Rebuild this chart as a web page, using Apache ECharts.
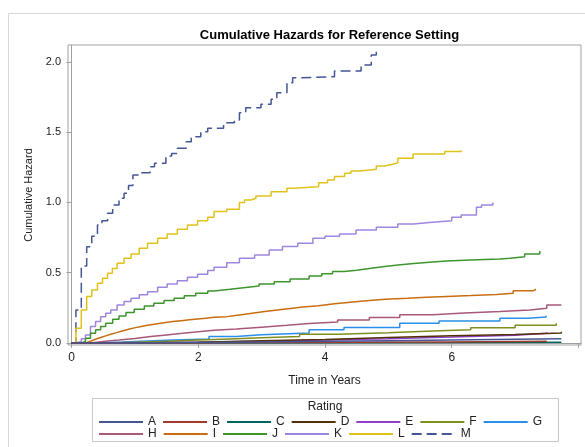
<!DOCTYPE html>
<html>
<head>
<meta charset="utf-8">
<script src="https://cdn.jsdelivr.net/npm/echarts@6/dist/echarts.min.js"></script>
<style>
  html, body { margin: 0; padding: 0; background: #fff; }
  #chart { width: 585px; height: 447px; }
</style>
</head>
<body>
<div id="chart"></div>
<script>
// Rating groups
const ratings = ['A','B','C','D','E','F','G','H','I','J','K','L','M'];

// Step times (years) and cumulative hazard after each jump, per rating
const tA = [0, 1, 2, 3, 4, 5, 6, 7, 7.73];
const hA = [0, 0.003, 0.007, 0.011, 0.016, 0.021, 0.026, 0.030, 0.033];
const tB = [0, 1.5, 3, 4.5, 6, 7.0, 7.5];
const hB = [0, 0.002, 0.004, 0.007, 0.010, 0.012, 0.014];
const tC = [0, 2, 4, 6, 7.73];
const hC = [0, 0.001, 0.002, 0.004, 0.005];
const tD = [0, 1, 2, 3, 4, 5, 6, 7, 7.73];
const hD = [0, 0.005, 0.015, 0.025, 0.038, 0.050, 0.060, 0.070, 0.080];
const tE = [0, 1, 2, 3, 4, 5, 6, 7, 7.5];
const hE = [0, 0.005, 0.012, 0.020, 0.030, 0.042, 0.055, 0.068, 0.076];
const tF = [0, 0.5, 1.0, 1.5, 2.0, 2.5, 3.0, 3.6, 4.2, 5.0, 5.7, 6.3, 7.0, 7.65];
const hF = [0, 0.005, 0.012, 0.020, 0.028, 0.036, 0.045, 0.062, 0.072, 0.085, 0.093, 0.108, 0.125, 0.140];
const tG = [0, 0.4, 0.8, 1.2, 1.6, 2.17, 2.6, 3.0, 3.75, 4.3, 5.18, 5.8, 6.76, 7.2, 7.49];
const hG = [0, 0.006, 0.013, 0.020, 0.028, 0.045, 0.058, 0.070, 0.093, 0.110, 0.140, 0.155, 0.176, 0.185, 0.194];
const tH = [0, 0.3, 0.5, 0.75, 1.0, 1.25, 1.5, 1.75, 2.0, 2.25, 2.6, 3.0, 3.4, 3.75, 4.2, 4.7, 5.18, 5.7, 6.2, 6.76, 7.23, 7.5, 7.73];
const hH = [0, 0.010, 0.020, 0.032, 0.045, 0.057, 0.068, 0.080, 0.090, 0.099, 0.112, 0.125, 0.138, 0.148, 0.163, 0.180, 0.200, 0.212, 0.224, 0.235, 0.247, 0.270, 0.270];
const tI = [0, 0.22, 0.30, 0.38, 0.46, 0.54, 0.62, 0.71, 0.80, 0.90, 0.99, 1.10, 1.20, 1.33, 1.46, 1.60, 1.73, 1.86, 1.99, 2.12, 2.25, 2.45, 2.65, 2.85, 3.05, 3.25, 3.45, 3.65, 3.9, 4.15, 4.4, 4.65, 4.95, 5.3, 5.6, 5.92, 6.3, 6.71, 6.97, 7.29, 7.33];
const hI = [0, 0.012, 0.026, 0.038, 0.050, 0.062, 0.073, 0.085, 0.097, 0.107, 0.116, 0.126, 0.135, 0.144, 0.152, 0.158, 0.164, 0.170, 0.176, 0.182, 0.187, 0.199, 0.211, 0.223, 0.235, 0.245, 0.255, 0.265, 0.278, 0.290, 0.300, 0.311, 0.318, 0.325, 0.331, 0.337, 0.345, 0.354, 0.372, 0.382, 0.382];
const tJ = [0, 0.15, 0.22, 0.30, 0.38, 0.46, 0.54, 0.65, 0.75, 0.86, 0.99, 1.15, 1.30, 1.46, 1.62, 1.78, 1.96, 2.15, 2.25, 2.5, 2.75, 2.96, 3.2, 3.45, 3.75, 3.95, 4.12, 4.3, 4.5, 4.7, 4.91, 5.15, 5.4, 5.65, 5.92, 6.3, 6.76, 6.92, 7.15, 7.39];
const hJ = [0, 0.010, 0.033, 0.069, 0.093, 0.116, 0.140, 0.169, 0.192, 0.216, 0.240, 0.263, 0.283, 0.301, 0.318, 0.335, 0.354, 0.370, 0.382, 0.395, 0.405, 0.420, 0.435, 0.455, 0.477, 0.492, 0.508, 0.518, 0.530, 0.542, 0.555, 0.565, 0.575, 0.583, 0.591, 0.597, 0.603, 0.614, 0.633, 0.655];
const tK = [0, 0.07, 0.155, 0.22, 0.30, 0.38, 0.46, 0.54, 0.62, 0.72, 0.83, 0.94, 1.07, 1.20, 1.36, 1.51, 1.67, 1.83, 1.99, 2.15, 2.25, 2.45, 2.65, 2.89, 3.12, 3.33, 3.57, 3.81, 4.0, 4.23, 4.49, 4.81, 5.15, 5.4, 5.65, 6.0, 6.15, 6.39, 6.47, 6.65];
const hK = [0, 0.010, 0.030, 0.057, 0.116, 0.152, 0.187, 0.211, 0.235, 0.270, 0.294, 0.318, 0.342, 0.365, 0.396, 0.420, 0.443, 0.467, 0.489, 0.515, 0.539, 0.570, 0.603, 0.626, 0.662, 0.686, 0.709, 0.745, 0.760, 0.776, 0.804, 0.823, 0.847, 0.858, 0.870, 0.895, 0.911, 0.966, 0.982, 0.999];
const tL = [0, 0.07, 0.155, 0.24, 0.32, 0.41, 0.49, 0.57, 0.645, 0.72, 0.83, 0.94, 1.07, 1.20, 1.36, 1.51, 1.67, 1.83, 1.99, 2.15, 2.25, 2.45, 2.65, 2.73, 2.83, 2.91, 3.15, 3.40, 3.5, 3.90, 4.04, 4.15, 4.31, 4.41, 4.55, 4.81, 4.94, 5.07, 5.15, 5.39, 5.89, 6.15];
const hL = [0, 0.105, 0.235, 0.330, 0.377, 0.425, 0.460, 0.496, 0.530, 0.567, 0.603, 0.633, 0.674, 0.710, 0.745, 0.776, 0.809, 0.840, 0.870, 0.895, 0.935, 0.951, 0.999, 1.018, 1.030, 1.046, 1.077, 1.101, 1.112, 1.141, 1.160, 1.184, 1.208, 1.224, 1.236, 1.260, 1.272, 1.283, 1.315, 1.345, 1.362, 1.370];
const tM = [0, 0.07, 0.155, 0.24, 0.32, 0.41, 0.48, 0.57, 0.65, 0.75, 0.83, 0.90, 0.97, 1.07, 1.24, 1.31, 1.49, 1.58, 1.67, 1.81, 1.89, 2.04, 2.15, 2.40, 2.57, 2.65, 2.75, 2.99, 3.15, 3.24, 3.40, 3.49, 3.6, 4.15, 4.57, 4.73, 4.81];
const hM = [0, 0.235, 0.548, 0.685, 0.760, 0.840, 0.870, 0.923, 0.982, 1.030, 1.065, 1.120, 1.195, 1.212, 1.255, 1.279, 1.331, 1.348, 1.386, 1.433, 1.468, 1.504, 1.528, 1.568, 1.587, 1.639, 1.675, 1.699, 1.734, 1.781, 1.853, 1.888, 1.895, 1.936, 1.979, 2.050, 2.085];

const times = [tA, tB, tC, tD, tE, tF, tG, tH, tI, tJ, tK, tL, tM];
const hazards = [hA, hB, hC, hD, hE, hF, hG, hH, hI, hJ, hK, hL, hM];

const colors = ['#445694', '#A23A2E', '#01665E', '#543005', '#9040D0', '#7F8E1F', '#2A8FEA',
                '#A8587A', '#C86E10', '#3E952C', '#A085E0', '#E0C21A', '#445694'];

const xTicks = [0, 2, 4, 6, 8];
const xLabels = [0, 2, 4, 6];
const yTicks = [0, 0.5, 1.0, 1.5, 2.0];

const FONT = '"Liberation Sans", Arial, sans-serif';

const series = ratings.map((name, i) => ({
  name: name,
  type: 'line',
  step: 'end',
  symbol: 'none',
  silent: true,
  z: 20 - i,
  data: times[i].map((t, k) => [t, hazards[i][k]]),
  lineStyle: {
    color: colors[i],
    width: 1.5,
    type: name === 'M' ? [10, 5] : 'solid'
  },
  itemStyle: { color: colors[i] }
}));

const legendBase = {
  orient: 'horizontal',
  left: 98,
  itemWidth: 44,
  itemHeight: 10,
  itemGap: 6,
  padding: 0,
  itemStyle: { opacity: 0 },
  textStyle: { fontFamily: FONT, fontSize: 12, color: '#222', width: 11 },
  selectedMode: false
};

const chart = echarts.init(document.getElementById('chart'), null, { renderer: 'canvas' });
chart.setOption({
  animation: false,
  backgroundColor: '#fff',
  title: {
    text: 'Cumulative Hazards for Reference Setting',
    left: 324.5,
    textAlign: 'center',
    top: 24,
    textStyle: { fontFamily: FONT, fontSize: 13, fontWeight: 'bold', color: '#000' }
  },
  grid: {
    left: 68, top: 45, right: 4, bottom: 102,
    show: true, borderColor: '#a0a0a0', borderWidth: 1, backgroundColor: 'transparent'
  },
  xAxis: {
    type: 'value',
    min: -0.055,
    max: 8.04,
    name: 'Time in Years',
    nameLocation: 'middle',
    nameGap: 30,
    nameTextStyle: { fontFamily: FONT, fontSize: 12, color: '#222' },
    axisLine: { show: true, lineStyle: { color: '#a0a0a0' } },
    axisTick: { show: true, length: 5, lineStyle: { color: '#a0a0a0' }, customValues: xTicks },
    axisLabel: { fontFamily: FONT, fontSize: 12, color: '#222', margin: 7, customValues: xLabels },
    splitLine: { show: false }
  },
  yAxis: {
    type: 'value',
    min: -0.015,
    max: 2.121,
    name: 'Cumulative Hazard',
    nameLocation: 'middle',
    nameGap: 33,
    nameTextStyle: { fontFamily: FONT, fontSize: 11, color: '#222' },
    axisLine: { show: true, lineStyle: { color: '#a0a0a0' } },
    axisTick: { show: true, length: 5, lineStyle: { color: '#a0a0a0' }, customValues: yTicks },
    axisLabel: {
      fontFamily: FONT, fontSize: 11, color: '#222', margin: 7, customValues: yTicks,
      formatter: v => v.toFixed(1)
    },
    splitLine: { show: false }
  },
  legend: [
    Object.assign({}, legendBase, { top: 416, data: ratings.slice(0, 7) }),
    Object.assign({}, legendBase, { top: 428, data: ratings.slice(7) })
  ],
  graphic: [
    {
      type: 'rect', silent: true, z: -1,
      shape: { x: 8.5, y: 13.5, width: 600, height: 460 },
      style: { fill: null, stroke: '#d8d8d8', lineWidth: 1 }
    },
    {
      type: 'rect', silent: true,
      shape: { x: 92.5, y: 398.5, width: 466, height: 43 },
      style: { fill: null, stroke: '#c8c8c8', lineWidth: 1 }
    },
    {
      type: 'text', silent: true,
      x: 325, y: 401,
      style: { text: 'Rating', fontFamily: FONT, fontSize: 12, fill: '#222', textAlign: 'center' }
    }
  ],
  series: series
});
</script>
</body>
</html>
